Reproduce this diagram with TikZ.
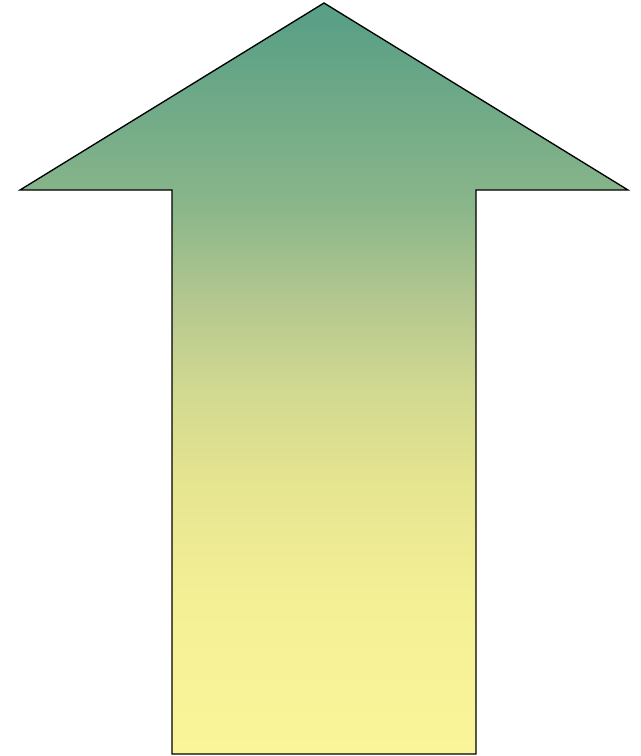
\documentclass[tikz,border=0pt]{standalone}
\usepackage{tikz}
\definecolor{fadeA}{HTML}{FBF599}
\definecolor{fadeB}{HTML}{F4F096}
\definecolor{fadeC}{HTML}{E6E590}
\definecolor{fadeD}{HTML}{D0D890}
\definecolor{fadeE}{HTML}{B5C890}
\definecolor{fadeF}{HTML}{8AB68A}
\definecolor{fadeG}{HTML}{5BA086}
\definecolor{fadeH}{HTML}{57A086}
\pgfdeclareverticalshading{arrowfade}{100bp}{color(0bp)=(fadeA); color(25bp)=(fadeA); color(34.9bp)=(fadeB); color(42.9bp)=(fadeC); color(49.6bp)=(fadeD); color(54.9bp)=(fadeE); color(61.5bp)=(fadeF); color(73.5bp)=(fadeG); color(75bp)=(fadeH); color(100bp)=(fadeH)}

\begin{document}
\begin{tikzpicture}[x=0.75pt, y=-0.75pt]%Up Arrow
    %the frame
    \useasboundingbox (0, 0) rectangle (640, 756);
    %the shaded arrow
    \shade[shading=arrowfade] (324, 3) -- (628, 190) -- (476, 190) -- (476, 754)
        -- (172, 754) -- (172, 190) -- (20, 190) -- cycle;
    %the outline
    \draw[line width=1pt, line join=miter] (324, 3) -- (628, 190) -- (476, 190) -- (476, 754)
        -- (172, 754) -- (172, 190) -- (20, 190) -- cycle;
\end{tikzpicture}
\end{document}
